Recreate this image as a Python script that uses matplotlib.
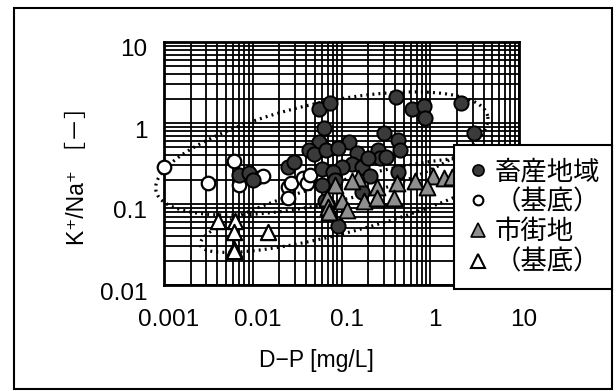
import numpy as np
import matplotlib
matplotlib.use("Agg")
import matplotlib.pyplot as plt
from matplotlib.lines import Line2D
from matplotlib.patches import Rectangle
import matplotlib.transforms as mtransforms

plt.rcParams["font.family"] = ["Liberation Sans", "Noto Sans CJK JP", "DejaVu Sans"]

# 畜産地域 (dark circles)
farm_x = [0.056, 0.074, 0.41, 0.62, 0.84, 0.88, 2.2, 3.1, 0.064, 0.056,
          0.12, 0.30, 0.43, 0.46, 0.043, 0.049, 0.067, 0.091, 0.15, 0.26,
          0.27, 0.32, 0.13, 0.17, 0.10, 0.060, 0.081, 0.21, 0.43, 0.091,
          0.0070, 0.0091, 0.010, 0.025, 0.029, 0.20, 0.085, 0.060, 0.065, 0.17]
farm_y = [1.48, 1.75, 2.1, 1.48, 1.6, 1.15, 1.75, 0.76, 0.87, 0.59,
          0.59, 0.76, 0.62, 0.46, 0.46, 0.42, 0.46, 0.49, 0.43, 0.47,
          0.37, 0.38, 0.31, 0.29, 0.29, 0.27, 0.25, 0.22, 0.25, 0.054,
          0.23, 0.24, 0.20, 0.29, 0.33, 0.37, 0.20, 0.17, 0.11, 0.14]

# 畜産地域（基底） (open circles)
farm_base_x = [0.001, 0.0031, 0.0062, 0.0070, 0.011, 0.013, 0.025, 0.025,
               0.027, 0.037, 0.041, 0.044]
farm_base_y = [0.29, 0.18, 0.34, 0.17, 0.21, 0.22, 0.16, 0.12,
               0.18, 0.21, 0.18, 0.23]

# 市街地 (gray triangles)
city_x = [0.155, 0.085, 0.25, 0.42, 0.67, 1.08, 1.43, 1.76, 0.91, 0.13,
          0.068, 0.10, 0.18, 0.25, 0.39, 0.071, 0.115, 0.073]
city_y = [0.21, 0.17, 0.16, 0.18, 0.19, 0.22, 0.21, 0.215, 0.16, 0.19,
          0.12, 0.11, 0.11, 0.12, 0.12, 0.093, 0.084, 0.08]

# 市街地（基底） (open triangles)
city_base_x = [0.0041, 0.0063, 0.0062, 0.0062, 0.0062, 0.015]
city_base_y = [0.062, 0.061, 0.045, 0.028, 0.026, 0.045]

# dotted ellipses: center (data), semi axes (px), angle (deg)
ellipses = [
    (0.06, 0.42, 170, 50, 12.8),
    (0.125, 0.097, 155, 26, 15.0),
]

W, H = 616, 391
fig = plt.figure(figsize=(W / 100, H / 100), dpi=100)
ax = fig.add_axes([164 / W, 1 - 285 / H, 355 / W, 243 / H])
ax.set_xscale("log")
ax.set_yscale("log")
ax.set_xlim(0.001, 10)
ax.set_ylim(0.01, 10)

ax.grid(True, which="both", color="black", linewidth=1.3)
ax.set_axisbelow(True)
for s in ax.spines.values():
    s.set_linewidth(2)
ax.tick_params(which="both", length=0)

ax.set_xticks([0.001, 0.01, 0.1, 1, 10])
ax.set_xticklabels(["0.001", "0.01", "0.1", "1", "10"], fontsize=17.5)
ax.set_yticks([0.01, 0.1, 1, 10])
ax.set_yticklabels(["0.01", "0.1", "1", "10"], fontsize=17.5)
ax.tick_params(axis="x", pad=17)
ax.tick_params(axis="y", pad=12)
off = mtransforms.ScaledTranslation(0, -6 / 100, fig.dpi_scale_trans)
for lab in ax.get_yticklabels():
    lab.set_transform(lab.get_transform() + off)
offx = mtransforms.ScaledTranslation(5 / 100, 0, fig.dpi_scale_trans)
for lab in ax.get_xticklabels():
    lab.set_transform(lab.get_transform() + offx)

# ellipses drawn in log space using axes pixel scale
dec_x = 355 / 4
dec_y = 243 / 3
t = np.linspace(0, 2 * np.pi, 400)
for cx, cy, a, b, ang in ellipses:
    th = np.radians(ang)
    u = a * np.cos(t)
    v = b * np.sin(t)
    ur = u * np.cos(th) - v * np.sin(th)
    vr = u * np.sin(th) + v * np.cos(th)
    ex = 10 ** (np.log10(cx) + ur / dec_x)
    ey = 10 ** (np.log10(cy) + vr / dec_y)
    ax.plot(ex, ey, color="black", linewidth=2.3, linestyle=(0, (0.6, 1.3)),
            zorder=3, clip_on=False)

ax.scatter(farm_base_x, farm_base_y, s=95, facecolor="white", edgecolor="black",
           linewidth=1.6, zorder=4, clip_on=False)
ax.scatter(city_base_x, city_base_y, s=120, marker="^", facecolor="white",
           edgecolor="black", linewidth=1.6, zorder=4, clip_on=False)
ax.scatter(farm_x, farm_y, s=105, facecolor="#3a3a3a", edgecolor="black",
           linewidth=1.4, zorder=5)
ax.scatter(city_x, city_y, s=130, marker="^", facecolor="#8e8e8e",
           edgecolor="black", linewidth=1.4, zorder=6)

handles = [
    Line2D([], [], marker="o", linestyle="none", markersize=8,
           markerfacecolor="#3a3a3a", markeredgecolor="black", markeredgewidth=1.2),
    Line2D([], [], marker="o", linestyle="none", markersize=7,
           markerfacecolor="white", markeredgecolor="black", markeredgewidth=1.5),
    Line2D([], [], marker="^", linestyle="none", markersize=10,
           markerfacecolor="#8e8e8e", markeredgecolor="black", markeredgewidth=1.2),
    Line2D([], [], marker="^", linestyle="none", markersize=10,
           markerfacecolor="white", markeredgecolor="black", markeredgewidth=1.5),
]
labels = ["畜産地域", "（基底）", "市街地", "（基底）"]
leg = fig.legend(handles, labels, loc="upper left",
                 bbox_to_anchor=(454 / W, 1 - 145 / H, 158 / W, 0),
                 mode="expand", fontsize=19, frameon=True, fancybox=False,
                 framealpha=1, edgecolor="black", handlelength=0.7,
                 handletextpad=0.3, labelspacing=0.2, borderpad=0.55,
                 borderaxespad=0)
leg.get_frame().set_linewidth(1.5)
leg.set_zorder(10)

fig.text(77 / W, 1 - 170 / H, "K⁺/Na⁺ ［－］", rotation=90, fontsize=16.5,
         ha="center", va="center")
fig.text(316 / W, 1 - 360 / H, "D−P [mg/L]", fontsize=16.5, ha="center", va="center")

fig.patches.append(Rectangle((14 / W, 2 / H), 598 / W, 381 / H,
                             transform=fig.transFigure, fill=False,
                             edgecolor="black", linewidth=1.5))

fig.savefig("out.png", dpi=100)
